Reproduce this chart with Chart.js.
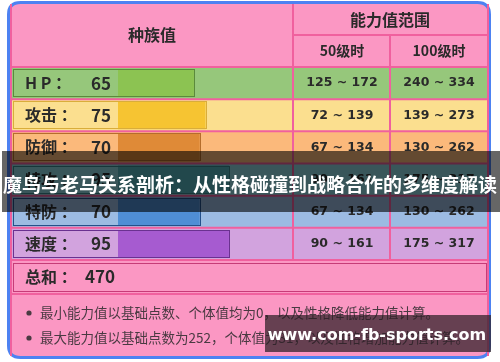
<!DOCTYPE html>
<html>
<head>
<meta charset="utf-8">
<script src="https://cdn.jsdelivr.net/npm/chart.js@4/dist/chart.umd.min.js"></script>
<style>
  html, body { margin: 0; padding: 0; background: #fff; }
  #wrap { width: 500px; height: 362px; }
</style>
</head>
<body>
<div id="wrap"><canvas id="statChart" width="500" height="362"></canvas></div>
<script>
// data
const statNames = ['H P', '攻击', '防御', '特攻', '特防', '速度'];
const baseStats = [65, 75, 70, 95, 70, 95];
const range50 = ['125 ~ 172', '72 ~ 139', '67 ~ 134', '90 ~ 161', '67 ~ 134', '90 ~ 161'];
const range100 = ['240 ~ 334', '139 ~ 273', '130 ~ 262', '175 ~ 317', '130 ~ 262', '175 ~ 317'];
const totalStat = 470;
const notes = [
    '最小能力值以基础点数、个体值均为0，以及性格降低能力值计算。',
    '最大能力值以基础点数为252，个体值为31，以及性格增加能力值计算。'
];
const bannerText = '魔鸟与老马关系剖析：从性格碰撞到战略合作的多维度解读';
const watermark = 'www.com-fb-sports.com';

// colours per row
const rowColors = ['#96c77b', '#fbdf8f', '#fbb97b', '#8fd6e0', '#9cbbe2', '#d2a3de'];
const barColors = ['#8cc352', '#f6c432', '#df8a37', '#56b5be', '#4f8ed5', '#a65bd0'];
const boxColors = ['#5b8a3c', '#d9ad3a', '#b56d2c', '#3a8a90', '#24508a', '#6a3190'];

const PINK = '#fb97c3';
const LINE = '#f0609e';
const CJK = '"Noto Sans CJK SC", "Noto Sans", sans-serif';

function roundRect(c, x, y, w, h, r) {
    c.beginPath();
    c.moveTo(x + r, y);
    c.lineTo(x + w - r, y);
    c.quadraticCurveTo(x + w, y, x + w, y + r);
    c.lineTo(x + w, y + h - r);
    c.quadraticCurveTo(x + w, y + h, x + w - r, y + h);
    c.lineTo(x + r, y + h);
    c.quadraticCurveTo(x, y + h, x, y + h - r);
    c.lineTo(x, y + r);
    c.quadraticCurveTo(x, y, x + r, y);
    c.closePath();
}

function hLine(c, x1, x2, y) {
    c.beginPath(); c.moveTo(x1, y); c.lineTo(x2, y); c.stroke();
}
function vLine(c, x, y1, y2) {
    c.beginPath(); c.moveTo(x, y1); c.lineTo(x, y2); c.stroke();
}

const tablePlugin = {
    id: 'statTable',
    beforeDatasetsDraw(chart) {
        const c = chart.ctx;
        const area = chart.chartArea;
        const rowH = (area.bottom - area.top) / statNames.length;
        c.save();
        // outer frame
        roundRect(c, 8.5, 2.5, 481, 355, 12);
        c.fillStyle = PINK;
        c.fill();
        c.lineWidth = 3;
        c.strokeStyle = '#4d82f2';
        c.stroke();

        // row backgrounds
        statNames.forEach((s, i) => {
            c.fillStyle = rowColors[i];
            c.fillRect(11, area.top + i * rowH, 477, rowH);
        });

        // grid lines
        c.strokeStyle = LINE;
        c.lineWidth = 2;
        hLine(c, 293, 488, 35);
        for (let i = 0; i <= statNames.length; i++) {
            hLine(c, 10, 488, area.top + i * rowH);
        }
        hLine(c, 10, 488, 294);
        vLine(c, 293, 4, area.bottom);
        vLine(c, 390, 35, area.bottom);
        vLine(c, 11, 4, 356);
        vLine(c, 488, 4, 356);

        // total row box
        c.lineWidth = 1;
        c.strokeStyle = '#c63c78';
        c.strokeRect(13.5, area.bottom + 3.5, 473, 28);
        c.restore();
    },
    afterDatasetsDraw(chart) {
        const c = chart.ctx;
        const area = chart.chartArea;
        const meta = chart.getDatasetMeta(0);
        c.save();
        // boxes around label + bar
        meta.data.forEach((bar, i) => {
            const h = bar.height;
            c.lineWidth = 1;
            c.strokeStyle = boxColors[i];
            c.strokeRect(13.5, Math.round(bar.y - h / 2) + 0.5, Math.round(bar.x) - 13, Math.round(h) - 1);
        });

        c.fillStyle = '#2a2a2a';
        c.textBaseline = 'middle';
        // headers
        c.textAlign = 'center';
        c.font = 'bold 16px ' + CJK;
        c.fillText('种族值', 152, 35);
        c.fillText('能力值范围', 390, 20);
        c.font = 'bold 14px ' + CJK;
        c.fillText('50级时', 342, 51);
        c.fillText('100级时', 439, 51);

        // row texts
        meta.data.forEach((bar, i) => {
            const y = bar.y;
            c.textAlign = 'left';
            c.font = 'bold 16px ' + CJK;
            c.fillText(statNames[i] + ' ：', 25, y);
            c.font = 'bold 17px ' + CJK;
            c.fillText(String(baseStats[i]), 91, y);
            c.textAlign = 'center';
            c.font = 'bold 12.5px "DejaVu Sans", sans-serif';
            c.fillText(range50[i], 342, y);
            c.fillText(range100[i], 439, y);
        });

        // total
        const ty = area.bottom + 17;
        c.textAlign = 'left';
        c.font = 'bold 16px ' + CJK;
        c.fillText('总和 ：', 25, ty);
        c.font = 'bold 17px ' + CJK;
        c.fillText(String(totalStat), 85, ty);

        // notes
        c.font = '13.5px ' + CJK;
        c.fillStyle = '#4a3a42';
        notes.forEach((t, i) => {
            const y = 313 + i * 25;
            c.beginPath();
            c.arc(29, y, 2.6, 0, Math.PI * 2);
            c.fill();
            c.fillText(t, 40, y);
        });
        c.restore();
    },
    afterDraw(chart) {
        const c = chart.ctx;
        c.save();
        // title banner over the table
        c.fillStyle = 'rgba(0,0,0,0.6)';
        c.fillRect(2, 151, 498, 61);
        c.fillStyle = '#ffffff';
        c.textBaseline = 'middle';
        c.textAlign = 'center';
        c.font = 'bold 19px ' + CJK;
        c.fillText(bannerText, 250, 185, 494);
        // watermark
        c.fillStyle = 'rgba(45,30,38,0.72)';
        c.fillRect(265, 315, 226, 37);
        c.fillStyle = '#ffffff';
        c.font = 'bold 16px "DejaVu Sans", sans-serif';
        c.fillText(watermark, 377, 336);
        c.restore();
    }
};

new Chart(document.getElementById('statChart').getContext('2d'), {
    type: 'bar',
    data: {
        labels: statNames,
        datasets: [{
            label: '种族值',
            data: baseStats,
            backgroundColor: barColors,
            borderWidth: 0,
            barPercentage: 0.87,
            categoryPercentage: 1
        }]
    },
    options: {
        indexAxis: 'y',
        responsive: false,
        animation: false,
        layout: {
            padding: { left: 118, right: 208, top: 67, bottom: 102 }
        },
        scales: {
            x: { display: false, min: 0, max: 149 },
            y: { display: false }
        },
        plugins: {
            legend: { display: false },
            tooltip: { enabled: false }
        }
    },
    plugins: [tablePlugin]
});
</script>
</body>
</html>
